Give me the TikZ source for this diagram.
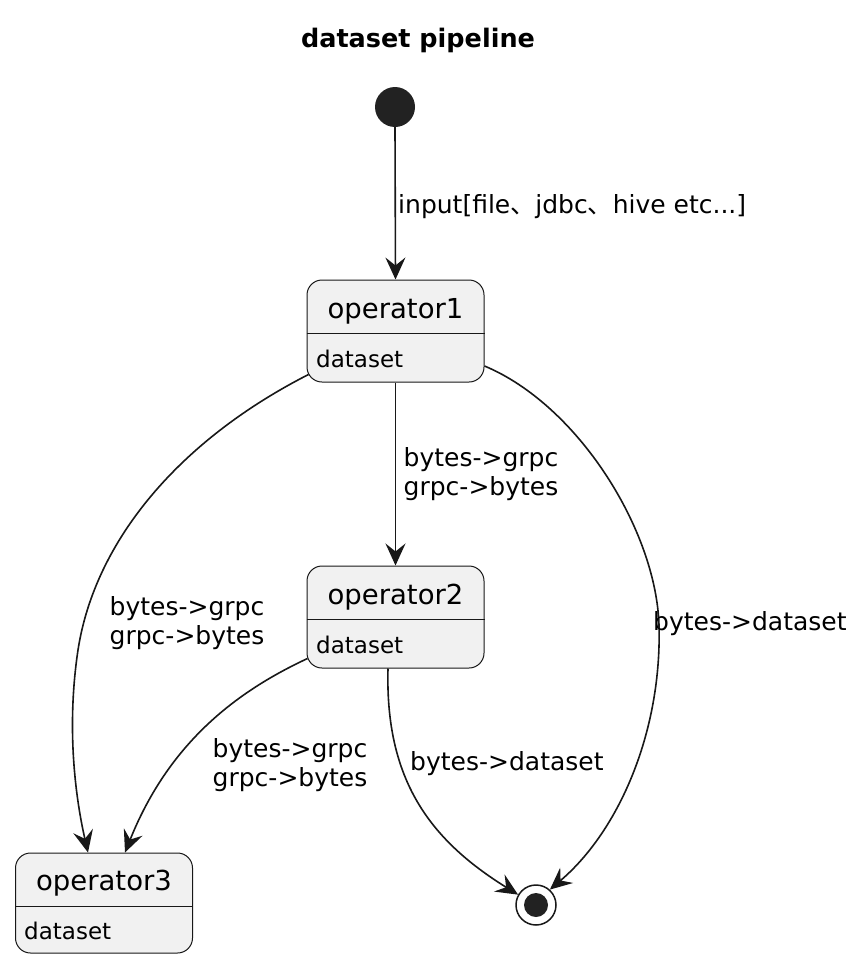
\documentclass[tikz,border=0pt]{standalone}
\usepackage{fontspec}
\setmainfont{DejaVu Sans}
\newfontfamily\cjkf{Noto Sans CJK SC}
\usetikzlibrary{arrows.meta}
\definecolor{fillc}{HTML}{F1F1F1}
\definecolor{linec}{HTML}{181818}
\definecolor{dotc}{HTML}{222222}
\begin{document}
\begin{tikzpicture}[x=1pt,y=-1pt,
  statebox/.style={draw=linec, fill=fillc, line width=1pt, rounded corners=15pt, minimum width=177pt, inner sep=0pt},
  namefont/.style={font=\fontsize{27.5}{33}\selectfont, inner sep=0pt, text=black},
  attrfont/.style={font=\fontsize{23}{28}\selectfont, inner sep=0pt, text=black},
  lbl/.style={font=\fontsize{25}{29}\selectfont, inner sep=0pt, text=black, align=center},
  edge/.style={draw=linec, line width=1.6pt, -{Stealth[length=22pt,width=20pt,inset=8pt]}},
  divider/.style={draw=linec, line width=1pt}
]
\useasboundingbox (0,0) rectangle (863,964);
\fill[white] (0,0) rectangle (863,964);

% title
\node[font=\bfseries\fontsize{25.5}{30}\selectfont, anchor=base, inner sep=0pt] (title) at (418,47) {dataset pipeline};

% start
\node[circle, fill=dotc, minimum size=40pt, inner sep=0pt] (start) at (395,107) {};

% states
\node[statebox, minimum height=102pt] (op1) at (395.5,331) {};
\node[statebox, minimum height=102pt] (op2) at (395.5,617) {};
\node[statebox, minimum height=100pt] (op3) at (104,903) {};
\draw[divider] (op1.west |- 0,333) -- (op1.east |- 0,333);
\draw[divider] (op2.west |- 0,619) -- (op2.east |- 0,619);
\draw[divider] (op3.west |- 0,906) -- (op3.east |- 0,906);
\node[namefont, anchor=base] (op1name) at (395.5,318) {operator1};
\node[attrfont, anchor=base west] (op1attr) at (316,367) {dataset};
\node[namefont, anchor=base] (op2name) at (395.5,604) {operator2};
\node[attrfont, anchor=base west] (op2attr) at (316,653) {dataset};
\node[namefont, anchor=base] (op3name) at (104,890) {operator3};
\node[attrfont, anchor=base west] (op3attr) at (24,939) {dataset};

% end
\node[circle, draw=linec, line width=1.5pt, fill=white, minimum size=40pt, inner sep=0pt] (end) at (536,905) {};
\fill[dotc] (end.center) circle (12pt);

% edges
\draw[edge] (start.south) -- (op1.north);
\node[lbl, anchor=base west] (l0) at (398,213) {input[file{\cjkf 、}jdbc{\cjkf 、}hive etc...]};

\draw[edge] (op1.south) -- (op2.north);
\node[lbl, anchor=base] (l1) at (481,495) {bytes->grpc\\grpc->bytes};

\draw[edge] ([xshift=2pt,yshift=8pt]op1.south west) .. controls (180,440) and (95,540) .. (78,650)
  .. controls (66,730) and (76,800) .. ([xshift=73pt]op3.north west);
\node[lbl, anchor=base] (l2) at (187,644) {bytes->grpc\\grpc->bytes};

\draw[edge] ([yshift=-35pt]op1.east) .. controls (578,405) and (656,530) .. (659,625)
  .. controls (662,730) and (620,830) .. (end.48);
\node[lbl, anchor=base west] (l3) at (653,630) {bytes->dataset};

\draw[edge] ([xshift=1pt,yshift=10pt]op2.south west) .. controls (240,690) and (170,740) .. ([xshift=110pt]op3.north west);
\node[lbl, anchor=base] (l4) at (290,786) {bytes->grpc\\grpc->bytes};

\draw[edge] ([xshift=-7.5pt]op2.south) .. controls (385,780) and (430,840) .. (end.150);
\node[lbl, anchor=base west] (l5) at (410,770) {bytes->dataset};
\end{tikzpicture}
\end{document}
